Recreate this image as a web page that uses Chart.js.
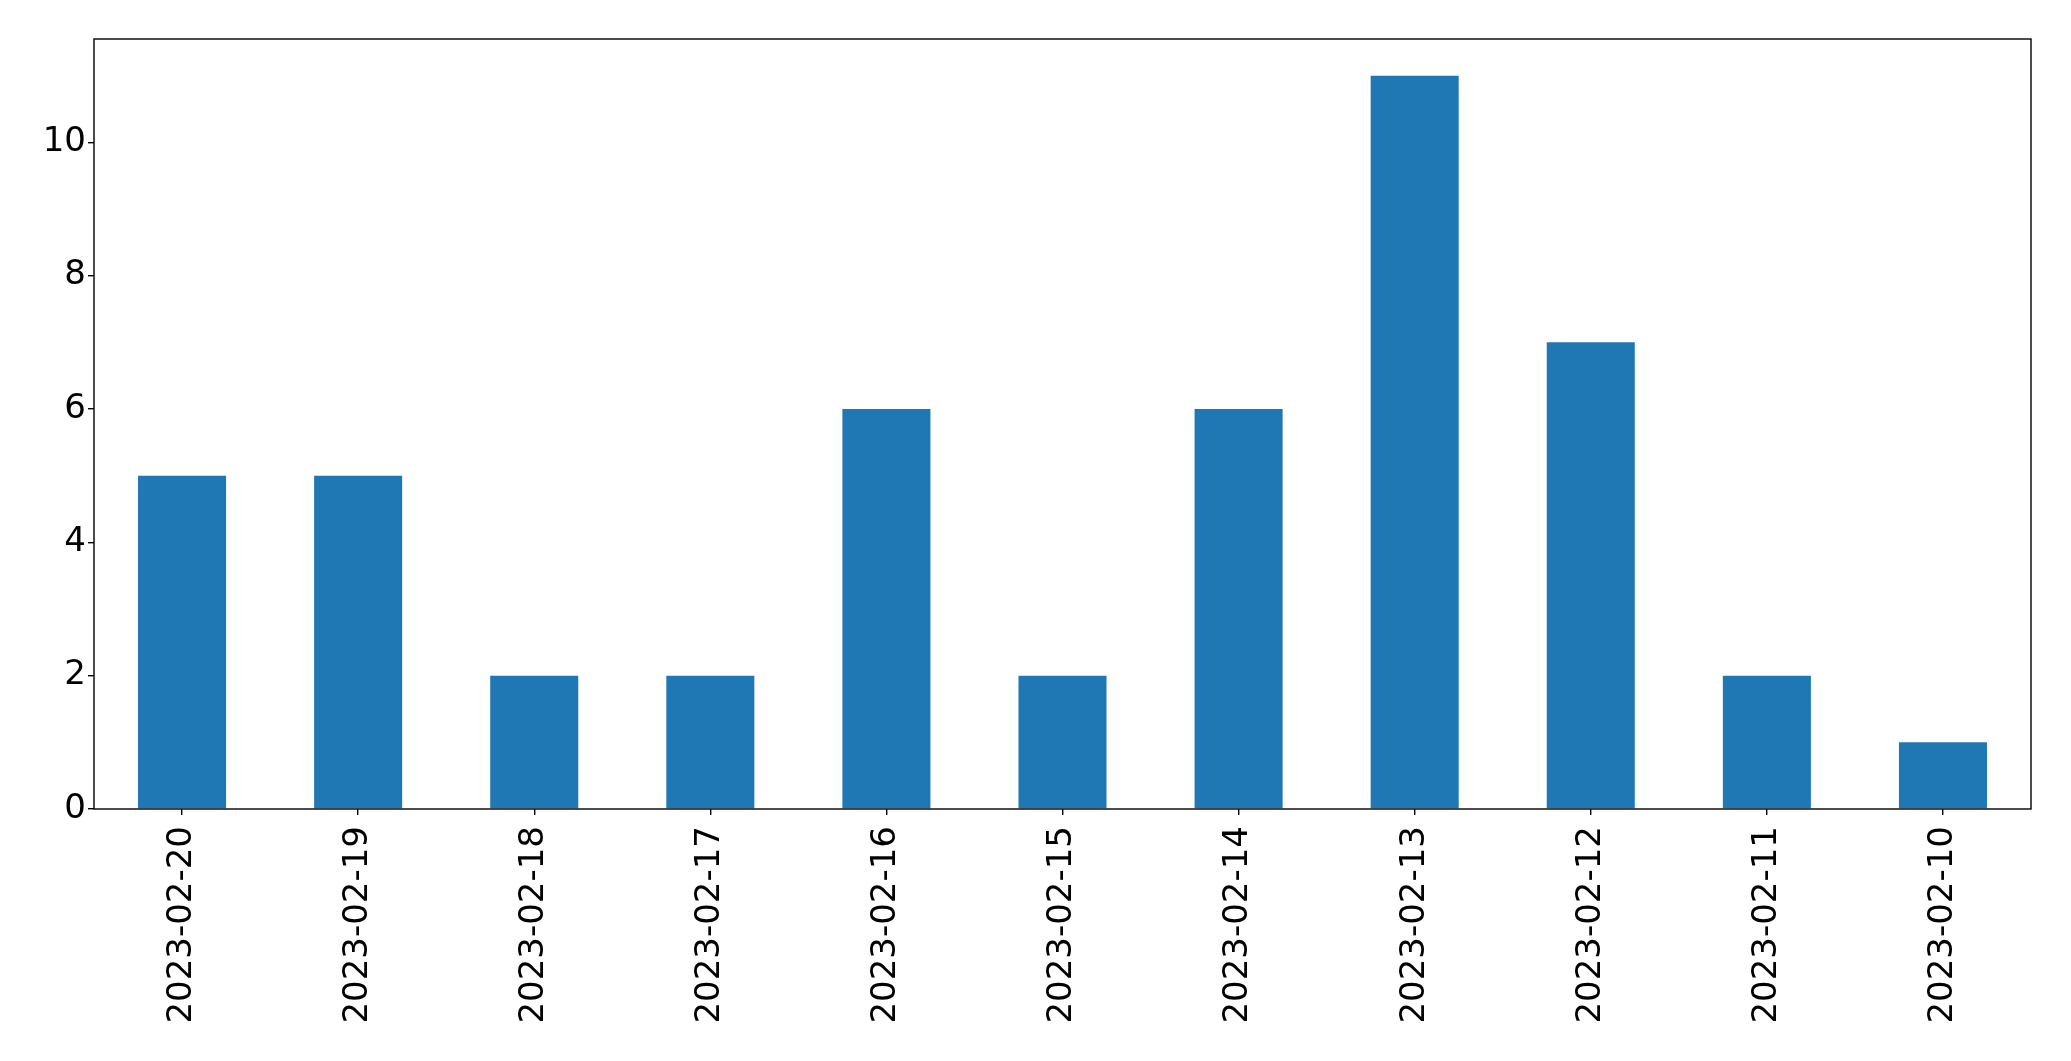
<!DOCTYPE html>
<html>
<head>
<meta charset="utf-8">
<script src="https://cdn.jsdelivr.net/npm/chart.js@4"></script>
<style>
    html, body { margin: 0; padding: 0; background: #ffffff; }
    #wrap { width: 2071px; height: 1061px; }
</style>
</head>
<body>
<div id="wrap"><canvas id="barChart" width="2071" height="1061"></canvas></div>
<script>
const dates = ["2023-02-20", "2023-02-19", "2023-02-18", "2023-02-17", "2023-02-16", "2023-02-15",
    "2023-02-14", "2023-02-13", "2023-02-12", "2023-02-11", "2023-02-10"];
const counts = [5, 5, 2, 2, 6, 2, 6, 11, 7, 2, 1];
const yTicks = [0, 2, 4, 6, 8, 10];
const yMax = 11.55;

/* Draws the full box round the plot area, like matplotlib's spines. */
const frameBox = {
    id: "frameBox",
    afterDatasetsDraw(chart) {
        const { ctx, chartArea } = chart;
        ctx.save();
        ctx.strokeStyle = "#000000";
        ctx.lineWidth = 1.4;
        ctx.strokeRect(chartArea.left, chartArea.top, chartArea.right - chartArea.left, chartArea.bottom - chartArea.top);
        ctx.restore();
    },
};

document.addEventListener("DOMContentLoaded", function () {
    const ctx = document.getElementById("barChart").getContext("2d");
    const tickFont = { family: "'DejaVu Sans', sans-serif", size: 34 };

    new Chart(ctx, {
        type: "bar",
        data: {
            labels: dates,
            datasets: [
                {
                    data: counts,
                    backgroundColor: "#1f77b4",
                    borderWidth: 0,
                    categoryPercentage: 1.0,
                    barPercentage: 0.5,
                },
            ],
        },
        options: {
            responsive: false,
            animation: false,
            devicePixelRatio: 1,
            layout: { padding: { top: 39, right: 40, left: 0, bottom: 0 } },
            plugins: {
                legend: { display: false },
                tooltip: { enabled: false },
            },
            scales: {
                x: {
                    grid: { display: true, offset: false, drawOnChartArea: false, drawTicks: true, tickLength: 6, color: "#000000", lineWidth: 1.4 },
                    border: { display: false },
                    ticks: { color: "#000000", font: tickFont, minRotation: 90, maxRotation: 90, padding: 11, autoSkip: false },
                    afterFit: (scale) => { scale.height = 252; },
                },
                y: {
                    min: 0,
                    max: yMax,
                    grid: { display: true, drawOnChartArea: false, drawTicks: true, tickLength: 6, color: "#000000", lineWidth: 1.4 },
                    border: { display: false },
                    ticks: { color: "#000000", font: tickFont, padding: 2 },
                    afterBuildTicks: (scale) => { scale.ticks = yTicks.map((v) => ({ value: v })); },
                    afterFit: (scale) => { scale.width = 94; },
                },
            },
        },
        plugins: [frameBox],
    });
});
</script>
</body>
</html>
